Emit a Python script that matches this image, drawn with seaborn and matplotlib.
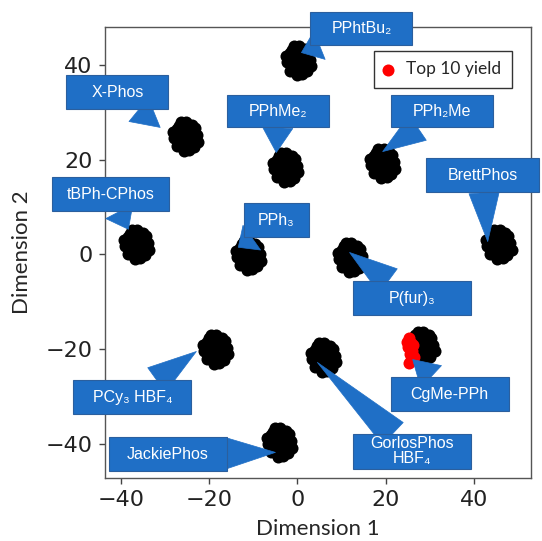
import numpy as np
import pandas as pd
import matplotlib
matplotlib.use("Agg")
import matplotlib.pyplot as plt
import seaborn as sns
from matplotlib.path import Path

# cluster centres (t-SNE style embedding, one blob per ligand)
ligands = ["PPhtBu2", "X-Phos", "PPhMe2", "PPh2Me", "BrettPhos", "tBPh-CPhos",
           "PPh3", "P(fur)3", "PCy3 HBF4", "GorlosPhos HBF4", "CgMe-PPh", "JackiePhos"]
center_x = [0.2, -25.4, -2.7, 19.3, 45.6, -36.5, -11.1, 12.0, -18.6, 5.9, 28.2, -4.1]
center_y = [40.9, 24.9, 18.4, 19.2, 2.1, 2.1, -0.2, -0.6, -20.0, -21.7, -19.4, -39.7]

# point spread inside each blob
blob_dx = [0.0, 1.5, -1.5, 2.6, -2.6, 0.2, -0.3, 1.9, -1.9, 2.1, -2.0, 0.9, -1.0, 2.9, -2.9, 0.5,
           1.2, -1.2, 0.3, -0.4, 1.4, -1.3]
blob_dy = [0.0, 2.4, 2.3, 0.2, -0.3, 3.0, -3.1, -2.2, -2.1, 1.7, 1.6, -2.9, 3.0, -1.1, 0.9, 1.2,
           0.4, -0.6, -1.5, 1.6, -1.2, 0.9]

# top 10 yield points (CgMe-PPh)
top10_x = [25.3, 25.8, 25.0, 25.9, 25.4, 26.2, 24.9, 25.7, 26.3, 25.2]
top10_y = [-17.6, -18.8, -19.6, -20.4, -21.1, -19.2, -18.4, -22.4, -21.7, -22.9]

# callout boxes: label, box centre, arrow tip (data units), box size (px)
labels = ["PPhtBu\u2082", "X-Phos", "PPhMe\u2082", "PPh\u2082Me", "BrettPhos", "tBPh-CPhos",
          "PPh\u2083", "P(fur)\u2083", "PCy\u2083 HBF\u2084", "GorlosPhos\nHBF\u2084", "CgMe-PPh",
          "JackiePhos"]
box_x = [14.5, -40.8, -4.3, 32.7, 42.0, -42.4, -4.8, 25.9, -37.4, 25.9, 34.5, -29.3]
box_y = [47.7, 34.2, 30.2, 30.2, 16.7, 12.7, 7.2, -9.3, -30.2, -41.6, -29.5, -42.2]
tip_x = [0.9, -31.1, -4.8, 19.3, 43.1, -38.3, -13.4, 11.8, -22.9, 4.5, 26.1, -5.0]
tip_y = [42.6, 26.8, 21.5, 21.7, 2.7, 5.3, 1.5, 0.4, -20.5, -22.8, -22.2, -41.8]
box_w = [102, 102, 102, 102, 113, 117, 65, 118, 118, 118, 118, 118]
box_h = [33, 34, 32, 32, 34, 34, 34, 34, 34, 35, 34, 34]

rows = []
for name, cx, cy in zip(ligands, center_x, center_y):
    for dx, dy in zip(blob_dx, blob_dy):
        rows.append((name, cx + dx, cy + dy))
df = pd.DataFrame(rows, columns=["ligand", "x", "y"])
top = pd.DataFrame({"x": top10_x, "y": top10_y})

sns.set_theme(style="ticks")
plt.rcParams["font.family"] = ["DejaVu Sans"]

blue = "#1f6fc6"


def fixed_box(w, h):
    # rectangle of fixed pixel size centred on the text
    def style(x0, y0, width, height, mutation_size):
        cx = x0 + width / 2
        cy = y0 + height / 2
        return Path([(cx - w / 2, cy - h / 2), (cx + w / 2, cy - h / 2),
                     (cx + w / 2, cy + h / 2), (cx - w / 2, cy + h / 2),
                     (cx - w / 2, cy - h / 2)], closed=True)
    return style


fig = plt.figure(figsize=(5.42, 5.41), dpi=100)
ax = fig.add_axes([0.1937, 0.1165, 0.786, 0.8336])

sns.scatterplot(data=df, x="x", y="y", color="black", s=75, linewidth=0, ax=ax, legend=False)
sns.scatterplot(data=top, x="x", y="y", color="red", s=75, linewidth=0, ax=ax, label="Top 10 yield")

for lab, bx, by, tx, ty, w, h in zip(labels, box_x, box_y, tip_x, tip_y, box_w, box_h):
    ax.annotate(lab, xy=(tx, ty), xytext=(bx, by), textcoords="data",
                ha="center", va="center", color="white", fontsize=11.5,
                family=["Liberation Sans", "DejaVu Sans"], linespacing=1.0,
                bbox=dict(boxstyle=fixed_box(w, h), fc=blue, ec="#2b5f9e", lw=0.8),
                arrowprops=dict(arrowstyle="wedge,tail_width=1.9", fc=blue, ec=blue,
                                lw=0.5, shrinkA=0, shrinkB=0),
                annotation_clip=False, zorder=4)

ax.set_xlim(-43.6, 52.9)
ax.set_ylim(-47.2, 48.0)
ax.set_xticks([-40, -20, 0, 20, 40])
ax.set_yticks([-40, -20, 0, 20, 40])
ax.tick_params(labelsize=16, length=4, width=1, pad=5, color="#444444", labelcolor="#222222")
for t in ax.get_xticklabels() + ax.get_yticklabels():
    t.set_family("DejaVu Sans")
for sp in ax.spines.values():
    sp.set_color("#555555")
    sp.set_linewidth(1)
ax.set_xlabel("Dimension 1", fontsize=16, family="Lato")
ax.set_ylabel("Dimension 2", fontsize=16, family="Lato")
ax.xaxis.set_label_coords(0.5, -0.09)
ax.yaxis.set_label_coords(-0.172, 0.5)

leg = ax.legend(loc="upper right", bbox_to_anchor=(0.955, 0.947), borderaxespad=0,
                fancybox=False, frameon=True, prop={"family": "Lato", "size": 12.5},
                handletextpad=0.85, handlelength=0.4, borderpad=0.6, markerscale=1.0)
leg.get_frame().set_edgecolor("black")
leg.get_frame().set_linewidth(1)

fig.savefig("out.png", dpi=100)
